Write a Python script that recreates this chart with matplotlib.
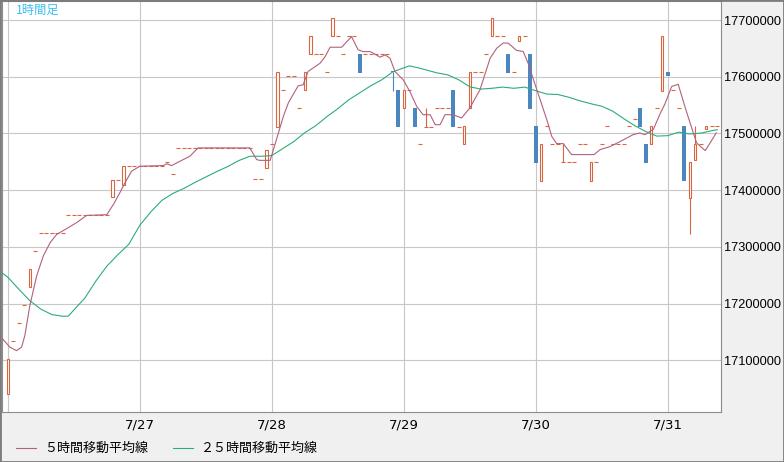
import numpy as np
import matplotlib.pyplot as plt
from matplotlib.patches import Rectangle
from matplotlib.lines import Line2D

JP = ['Noto Sans CJK JP', 'DejaVu Sans']

# 1時間足 7/26 0:00 - 7/31 9:00 (130本)
opens = [
    17039800, 17134600, 17166100, 17197700, 17229300, 17292500, 17324000, 17324000,
    17324000, 17324000, 17324000, 17355600, 17355600, 17355600, 17355600, 17355600,
    17355600, 17355600, 17355600, 17387200, 17418800, 17408600, 17442600, 17442600,
    17442600, 17442600, 17442600, 17442600, 17442600, 17449100, 17428500, 17473800,
    17473800, 17473800, 17473800, 17473800, 17473800, 17473800, 17473800, 17473800,
    17473800, 17473800, 17473800, 17473800, 17473800, 17419200, 17419200, 17438600,
    17480900, 17512200, 17576100, 17600700, 17600700, 17544300, 17576100, 17639500,
    17639500, 17639500, 17607800, 17671300, 17671300, 17639500, 17671300, 17671300,
    17639500, 17639500, 17639500, 17639500, 17639500, 17639500, 17609800, 17576600,
    17544300, 17576600, 17544300, 17480900, 17511900, 17511900, 17544300, 17544300,
    17544300, 17576600, 17510800, 17480900, 17544300, 17607800, 17607800, 17639500,
    17671300, 17671300, 17671300, 17639500, 17607800, 17663500, 17671300, 17639500,
    17513100, 17416700, 17512600, 17480900, 17480900, 17448800, 17448800, 17448800,
    17480900, 17480900, 17416700, 17448800, 17480900, 17512600, 17480900, 17480900,
    17480900, 17512600, 17524900, 17544900, 17481400, 17480900, 17544300, 17575400,
    17608300, 17576100, 17544300, 17512600, 17386700, 17452700, 17480900, 17507300,
    17512600, 17512600,
]
closes = [
    17103000, 17134600, 17166100, 17197700, 17260900, 17292500, 17324000, 17324000,
    17324000, 17324000, 17324000, 17355600, 17355600, 17355600, 17355600, 17355600,
    17355600, 17355600, 17355600, 17418800, 17418800, 17442600, 17442600, 17442600,
    17442600, 17442600, 17442600, 17442600, 17442600, 17449100, 17428500, 17473800,
    17473800, 17473800, 17473800, 17473800, 17473800, 17473800, 17473800, 17473800,
    17473800, 17473800, 17473800, 17473800, 17473800, 17419200, 17419200, 17470800,
    17480900, 17607800, 17576100, 17600700, 17600700, 17544300, 17608000, 17671400,
    17639500, 17639500, 17607800, 17703000, 17671300, 17639500, 17671300, 17671300,
    17607100, 17639500, 17639500, 17639500, 17639500, 17639500, 17609200, 17511900,
    17576600, 17576600, 17511900, 17480900, 17511900, 17511900, 17544300, 17544300,
    17544300, 17510500, 17510800, 17513100, 17607800, 17607800, 17607800, 17639500,
    17703000, 17671300, 17671300, 17607100, 17607800, 17671300, 17671300, 17543100,
    17448400, 17480900, 17512600, 17480900, 17480900, 17448800, 17448800, 17448800,
    17480900, 17480900, 17448800, 17448800, 17480900, 17512600, 17480900, 17480900,
    17480900, 17512600, 17524900, 17511900, 17448400, 17512600, 17544300, 17671800,
    17601300, 17576100, 17544300, 17416700, 17449100, 17480900, 17480900, 17512600,
    17512600, 17512600,
]
# ヒゲのある足
wick_idx = [70, 76, 101, 124, 125]
wick_high = [17609800, 17544300, 17480900, 17449100, 17512600]
wick_low = [17574800, 17511900, 17448800, 17323200, 17452700]

# 5時間移動平均線 (足の位置, 値)
ma5_pos = [-1.1, 0.4, 1.6, 2.5, 3.1, 4.0, 5.25, 6.45, 7.7, 8.9, 10.7, 12.5, 14.35, 18.0,
           19.2, 20.4, 21.3, 22.5, 24.0, 28.3, 28.9, 29.8, 31.3, 33.1, 34.6, 44.0, 45.25,
           45.8, 47.7, 48.3, 49.2, 50.1, 51.0, 52.2, 52.8, 53.7, 54.6, 56.8, 57.7, 58.6,
           60.7, 62.5, 63.7, 64.6, 65.85, 66.45, 67.7, 68.6, 69.5, 70.4, 71.9, 73.1, 74.35,
           75.5, 76.8, 77.7, 78.6, 79.5, 81.0, 82.5, 84.0, 85.85, 87.7, 88.9, 90.1, 91.0,
           92.5, 93.7, 94.6, 95.5, 96.8, 98.0, 98.9, 99.8, 101.0, 102.5, 106.6, 107.7,
           109.5, 111.3, 113.7, 114.9, 115.85, 117.4, 118.6, 119.5, 120.7, 121.9, 123.1,
           124.3, 125.25, 126.8, 127.7, 128.8]
ma5 = [17139400, 17123000, 17117040, 17123030, 17143640, 17196130, 17248850, 17284000,
       17307550, 17322140, 17332160, 17342700, 17355530, 17356760, 17374860, 17395950,
       17412900, 17433400, 17442180, 17443400, 17446400, 17443400, 17450960, 17459750,
       17474510, 17474510, 17453950, 17452540, 17452540, 17471500, 17500800, 17530000,
       17553600, 17574000, 17584000, 17585800, 17609200, 17624000, 17635500, 17652000,
       17652000, 17670700, 17647300, 17644300, 17644300, 17641480, 17634450, 17638490,
       17632690, 17609140, 17594550, 17573990, 17547630, 17533040, 17533040, 17515460,
       17515460, 17533040, 17533040, 17527240, 17544810, 17576975, 17632690, 17650260,
       17659580, 17659050, 17646400, 17644640, 17623900, 17597190, 17559400, 17524250,
       17494900, 17482070, 17482070, 17462740, 17462740, 17471525, 17476800, 17485585,
       17497890, 17500880, 17497890, 17507550, 17534800, 17552370, 17582770, 17586640,
       17547620, 17511070, 17483300, 17469770, 17483300, 17500880]

# 25時間移動平均線
ma25_pos = [-1.1, 0, 2, 4, 6, 8, 10, 11, 12, 14, 16, 18, 20, 22, 24, 26, 28, 30, 32, 34,
            36, 38, 40, 42, 44, 46, 48, 50, 52, 54, 56, 58, 60, 62, 64, 66, 68, 70, 72, 73,
            75, 78, 80, 82, 84, 86, 88, 90, 92, 94, 96, 98, 100, 102, 104, 106, 108, 110,
            112, 114, 116, 118, 120, 122, 124, 126, 128, 129]
ma25 = [17254500, 17246600, 17225450, 17205250, 17190300, 17180700, 17177700, 17178000,
        17188600, 17209650, 17239550, 17265900, 17286100, 17304600, 17338000, 17361700,
        17381900, 17394200, 17403000, 17413500, 17423200, 17432850, 17441650, 17452200,
        17459750, 17459750, 17461000, 17473300, 17485600, 17501400, 17513700, 17529500,
        17543600, 17559400, 17571700, 17584000, 17594550, 17608600, 17615600, 17619200,
        17614800, 17606850, 17603300, 17594550, 17582250, 17578200, 17579600, 17581700,
        17579600, 17581700, 17575200, 17569400, 17568700, 17563800, 17557600, 17552400,
        17548000, 17539200, 17526000, 17513700, 17503200, 17495300, 17496100, 17502300,
        17499100, 17500500, 17504900, 17506700]

day_pos = [0, 24, 48, 72, 96, 120]
day_labels = ['', '7/27', '7/28', '7/29', '7/30', '7/31']
price_ticks = [17100000, 17200000, 17300000, 17400000, 17500000, 17600000, 17700000]

UP = '#d9663f'
DOWN = '#4a87bf'
C5 = '#b3607d'
C25 = '#2bad78'

W, H = 784, 462
fig = plt.figure(figsize=(W / 100, H / 100), dpi=100, facecolor='#f0f0f0')
ax = fig.add_axes([1.5 / W, 50 / H, 719.8 / W, 411 / H])
ax.set_facecolor('white')
ax.set_xlim(-1.145, 129.73)
ax.set_ylim(17008900, 17733500)

highs = [max(o, c) for o, c in zip(opens, closes)]
lows = [min(o, c) for o, c in zip(opens, closes)]
for k, hi, lo in zip(wick_idx, wick_high, wick_low):
    highs[k] = hi
    lows[k] = lo

for i, (o, c, hi, lo) in enumerate(zip(opens, closes, highs, lows)):
    if c > o:
        col = UP
        ax.add_patch(Rectangle((i - 0.22, o), 0.44, c - o, facecolor='white',
                               edgecolor=UP, lw=0.8, zorder=2))
    elif c < o:
        col = DOWN
        h = max(o - c, 1800)
        ax.add_patch(Rectangle((i - 0.36, o - h), 0.72, h, facecolor=DOWN,
                               edgecolor='none', zorder=2))
    else:
        col = UP
        ax.hlines(o, i - 0.36, i + 0.36, color=UP, lw=0.8, zorder=2)
    top, bot = max(o, c), min(o, c)
    if hi > top:
        ax.vlines(i, top, hi, color=col, lw=0.8, zorder=2)
    if lo < bot:
        ax.vlines(i, lo, bot, color=col, lw=0.8, zorder=2)

ax.plot(ma25_pos, ma25, color=C25, lw=0.8, zorder=3)
ax.plot(ma5_pos, ma5, color=C5, lw=0.8, zorder=3)

ax.set_xticks(day_pos)
ax.set_xticklabels(day_labels, fontsize=9.5)
ax.set_yticks(price_ticks)
ax.set_yticklabels([str(p) for p in price_ticks], family='Liberation Sans', fontsize=9.2)
ax.yaxis.tick_right()
ax.tick_params(axis='y', length=0, pad=2)
ax.tick_params(axis='x', length=0, pad=5)
ax.grid(True, color='#c8c8c8', lw=0.8, zorder=0)
ax.set_axisbelow(True)
for s in ax.spines.values():
    s.set_color('#8c8c8c')
    s.set_linewidth(0.8)

ax.text(14 / 719.8, 1 - 9.5 / 411, '1時間足', transform=ax.transAxes, color='#3cbef0',
        fontsize=8.8, va='center', ha='left', family=JP)

# 凡例
ly = 1 - 448 / H
fig.add_artist(Line2D([16 / W, 36 / W], [ly, ly], color=C5, lw=0.8))
fig.text(44 / W, ly, '５時間移動平均線', fontsize=9.4, va='center', ha='left', family=JP)
fig.add_artist(Line2D([173 / W, 193 / W], [ly, ly], color=C25, lw=0.8))
fig.text(201 / W, ly, '２５時間移動平均線', fontsize=9.4, va='center', ha='left', family=JP)

fig.add_artist(Rectangle((0, 0), 1, 1, transform=fig.transFigure, fill=False,
                         edgecolor='#7c7c7c', lw=2, zorder=10))

fig.savefig('out.png', dpi=100, facecolor=fig.get_facecolor())
